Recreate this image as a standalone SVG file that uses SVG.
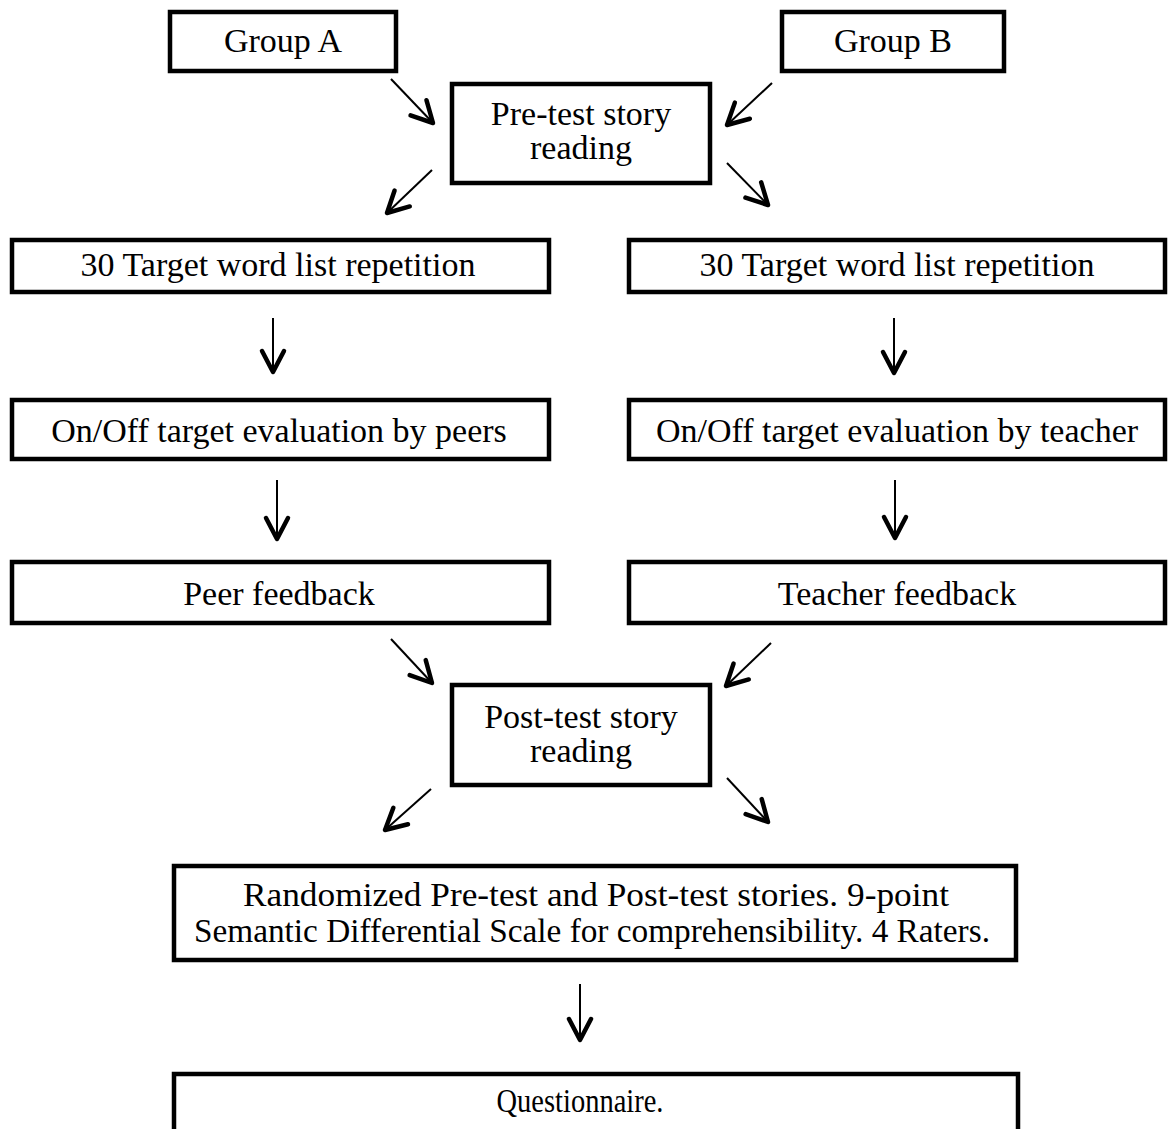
<svg xmlns="http://www.w3.org/2000/svg" width="1169" height="1129" viewBox="0 0 1169 1129">
<style>
.box{fill:#fff;stroke:#000;stroke-width:4.5}
.t{font-family:"Liberation Serif","Times New Roman",serif;font-size:34px;fill:#000;text-anchor:middle}
.c line{stroke:#000;stroke-width:2;marker-end:url(#ah)}
</style>
<defs>
<marker id="ah" markerUnits="userSpaceOnUse" viewBox="-26 -15 30 30" markerWidth="30" markerHeight="30" refX="0" refY="0" orient="auto" overflow="visible">
<path d="M-21,-11 L0,0 L-21,11" fill="none" stroke="#000" stroke-width="4.5" stroke-linecap="round" stroke-linejoin="round"/>
</marker>
</defs>
<rect width="1169" height="1129" fill="#fff"/>
<g id="groupA"><rect class="box" x="170" y="12" width="226" height="59"/><text class="t" x="283" y="52">Group A</text></g>
<g id="groupB"><rect class="box" x="782" y="12" width="222" height="59"/><text class="t" x="893" y="52">Group B</text></g>
<g id="pretest"><rect class="box" x="452" y="84" width="258" height="99"/><text class="t" x="581" y="125">Pre-test story</text><text class="t" x="581" y="159">reading</text></g>
<g id="targetA"><rect class="box" x="12" y="240" width="537" height="52"/><text class="t" x="278" y="276">30 Target word list repetition</text></g>
<g id="targetB"><rect class="box" x="629" y="240" width="536" height="52"/><text class="t" x="897" y="276">30 Target word list repetition</text></g>
<g id="evalA"><rect class="box" x="12" y="400" width="537" height="59"/><text class="t" x="279" y="442">On/Off target evaluation by peers</text></g>
<g id="evalB"><rect class="box" x="629" y="400" width="536" height="59"/><text class="t" x="897" y="442">On/Off target evaluation by teacher</text></g>
<g id="peer"><rect class="box" x="12" y="562" width="537" height="61"/><text class="t" x="279" y="605">Peer feedback</text></g>
<g id="teacher"><rect class="box" x="629" y="562" width="536" height="61"/><text class="t" x="897" y="605">Teacher feedback</text></g>
<g id="posttest"><rect class="box" x="452" y="685" width="258" height="100"/><text class="t" x="581" y="728">Post-test story</text><text class="t" x="581" y="762">reading</text></g>
<g id="randomized"><rect class="box" x="174" y="866" width="842" height="94"/><text class="t" x="596" y="906" textLength="706" lengthAdjust="spacingAndGlyphs">Randomized Pre-test and Post-test stories. 9-point</text><text class="t" x="592" y="942" textLength="796" lengthAdjust="spacingAndGlyphs">Semantic Differential Scale for comprehensibility. 4 Raters.</text></g>
<g id="questionnaire"><rect class="box" x="174" y="1074" width="844" height="80"/><text class="t" x="580" y="1112" textLength="167" lengthAdjust="spacingAndGlyphs">Questionnaire.</text></g>
<g id="connectors" class="c">
<line x1="391" y1="79" x2="433" y2="123"/>
<line x1="772" y1="83" x2="727" y2="125"/>
<line x1="432" y1="170" x2="387" y2="213"/>
<line x1="727" y1="163" x2="768" y2="205"/>
<line x1="273" y1="318" x2="273" y2="372"/>
<line x1="894" y1="318" x2="894" y2="373"/>
<line x1="277" y1="480" x2="277" y2="539"/>
<line x1="895" y1="480" x2="895" y2="538"/>
<line x1="391" y1="639" x2="432" y2="683"/>
<line x1="771" y1="643" x2="726" y2="686"/>
<line x1="431" y1="789" x2="385" y2="830"/>
<line x1="727" y1="778" x2="768" y2="822"/>
<line x1="580" y1="984" x2="580" y2="1040"/>
</g>
</svg>
